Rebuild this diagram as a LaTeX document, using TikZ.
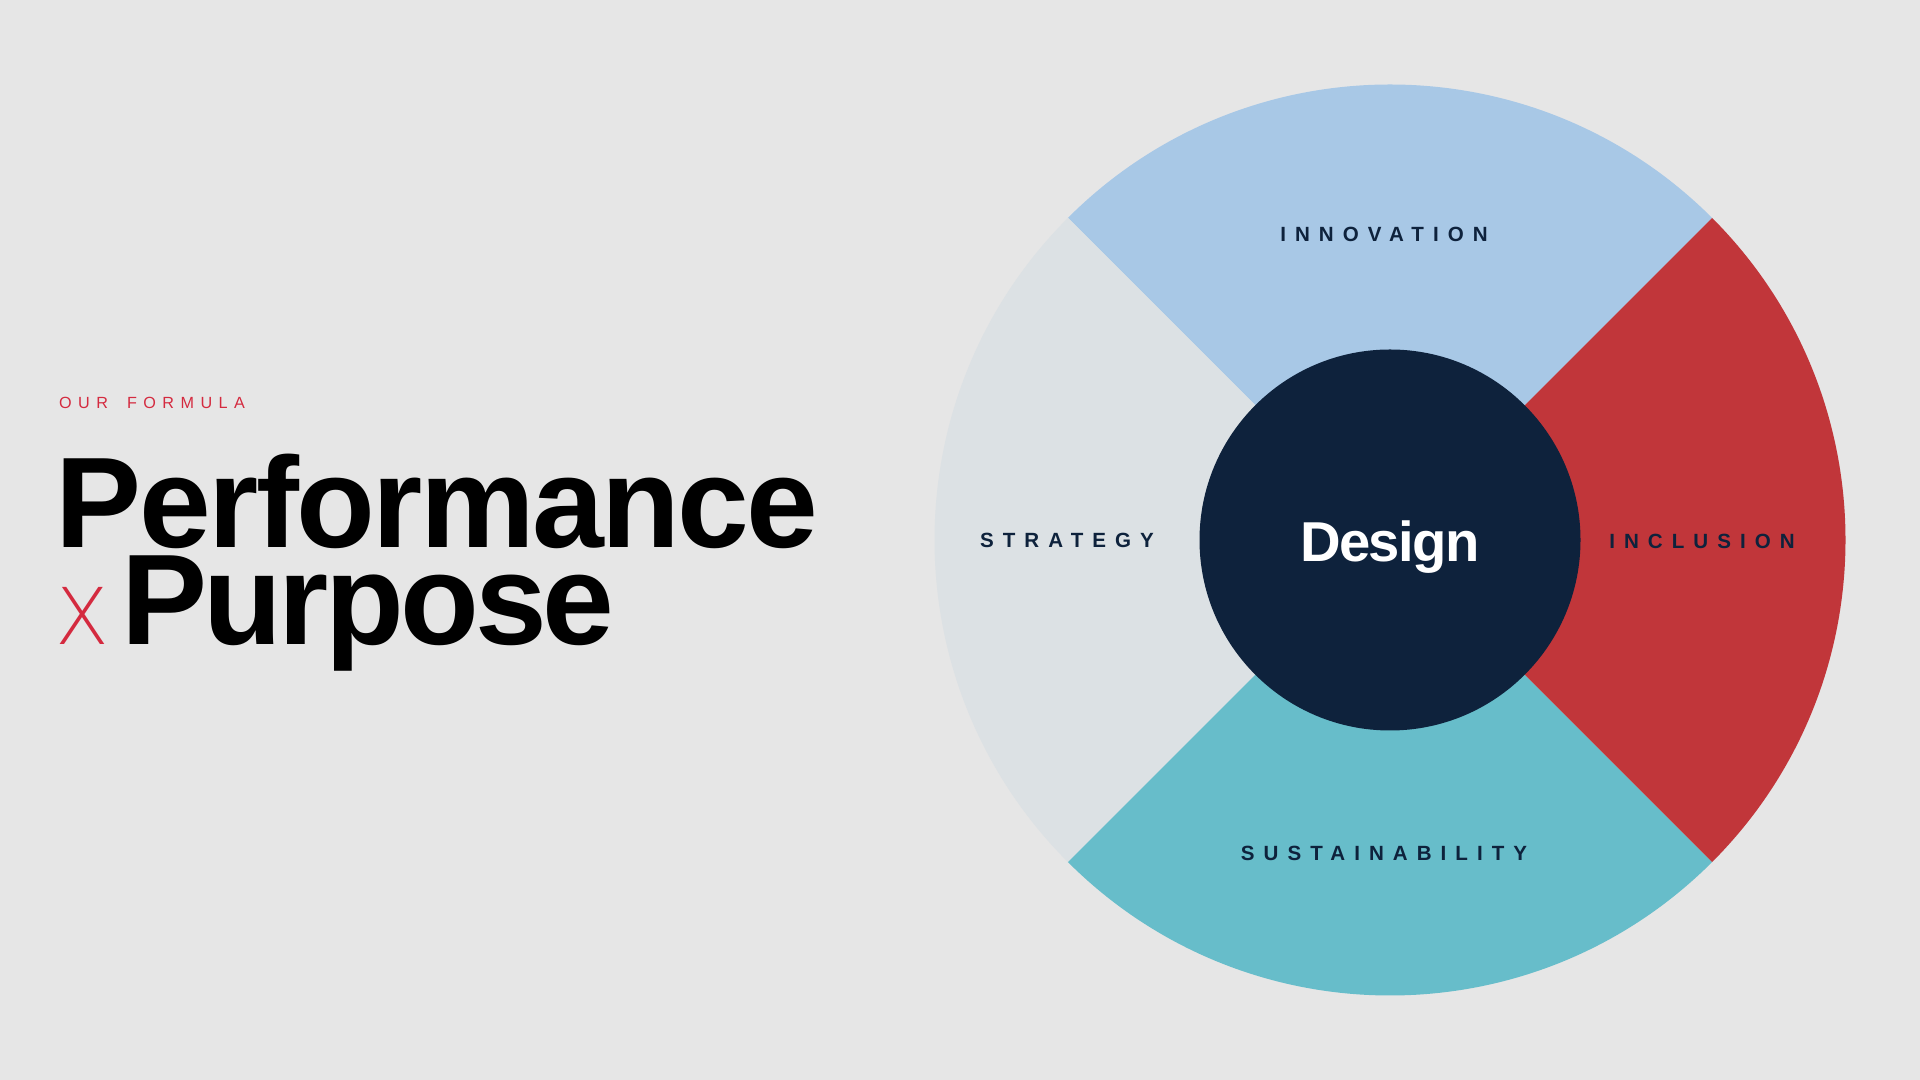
\documentclass[tikz,border=0pt]{standalone}
\usepackage{fontspec}
\setmainfont{Liberation Sans}
\newfontfamily\heavyfont{Liberation Sans}[LetterSpace=-3]
\newfontfamily\widefont{Liberation Sans}[LetterSpace=-2]
\newfontfamily\spacedfont{Liberation Sans}[LetterSpace=44]
\newfontfamily\kickerfont{Liberation Sans}[LetterSpace=40]
\newfontfamily\thinfont{DejaVu Sans ExtraLight}
\usetikzlibrary{calc}
\definecolor{paper}{HTML}{E6E6E6}
\definecolor{navy}{HTML}{0E223C}
\definecolor{accent}{HTML}{D42A3F}
\definecolor{innov}{HTML}{A8C8E6}
\definecolor{incl}{HTML}{C1363A}
\definecolor{sust}{HTML}{67BDCA}
\definecolor{strat}{HTML}{DCE1E4}

\begin{document}
\begin{tikzpicture}
\tikzset{
  title/.style={inner sep=0pt,anchor=base west,font=\heavyfont\bfseries\fontsize{36.7pt}{40pt}\selectfont},
  quad/.style={inner sep=0pt,anchor=base,navy,font=\spacedfont\bfseries\fontsize{5.85pt}{7pt}\selectfont}
}
\fill[paper] (0,0) rectangle (19.2,10.8);

% left block
\node[inner sep=0pt,anchor=base west,accent,font=\kickerfont\fontsize{4.6pt}{6pt}\selectfont] (formula) at (.585,6.71) {OUR\hspace{.19cm}FORMULA};
\node[title,font=\widefont\bfseries\fontsize{36.7pt}{40pt}\selectfont] (perf) at (.55,5.327) {Performance};
\node[inner sep=0pt,anchor=base west,accent,font=\thinfont\fontsize{22.3pt}{24pt}\selectfont] (times) at (.545,4.35) {X};
\node[title,text height=.8cm] (purp) at (1.21,4.35) {Purpose};

% wheel
\coordinate (C) at (13.9,5.4);
\def\R{4.555}
\foreach \a/\c in {45/innov,135/strat,225/sust,315/incl}{
  \fill[\c] (C) -- ++(\a:\R) arc[start angle=\a,end angle=\a+90,radius=\R] -- cycle;
}
\fill[navy] (C) circle (1.905);
\node[inner sep=0pt,anchor=base,white,font=\heavyfont\bfseries\fontsize{16pt}{18pt}\selectfont] (design) at (13.9,5.183) {Design};

\node[quad] (innovation) at (13.84,8.383) {INNOVATION};
\node[quad] (strategy) at (10.67,5.323) {STRATEGY};
\node[quad] (inclusion) at (17.02,5.317) {INCLUSION};
\node[quad] (sustain) at (13.84,2.193) {SUSTAINABILITY};
\end{tikzpicture}
\end{document}
